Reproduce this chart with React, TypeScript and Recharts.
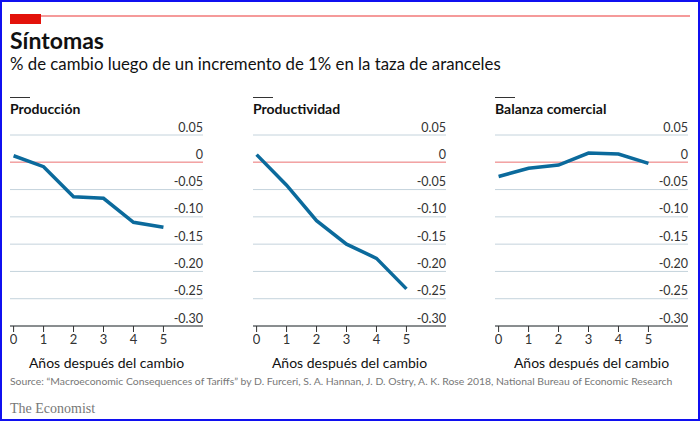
import React from 'react';
import { LineChart, Line, XAxis, YAxis, CartesianGrid, ReferenceLine } from 'recharts';

const years = [0, 1, 2, 3, 4, 5];
const produccion = [0.012, -0.008, -0.063, -0.066, -0.110, -0.119];
const productividad = [0.014, -0.042, -0.107, -0.150, -0.176, -0.232];
const balanza = [-0.026, -0.011, -0.005, 0.017, 0.015, -0.002];
const yTicks = [0.05, 0, -0.05, -0.1, -0.15, -0.2, -0.25, -0.3];

const panels = [
    { title: 'Producción', values: produccion, left: 10 },
    { title: 'Productividad', values: productividad, left: 253 },
    { title: 'Balanza comercial', values: balanza, left: 495 },
];

const FONT = 'Lato, "Open Sans", sans-serif';

const YTick = (props: any) => {
    const { x, y, payload } = props;
    const v = payload.value;
    const label = Math.abs(v) < 1e-9 ? '0' : v.toFixed(2);
    return (
        <text x={x} y={y - 3.5} textAnchor="end" fontSize={12.5} fill="#333" fontFamily={FONT}>
            {label}
        </text>
    );
};

const Panel: React.FC<{ title: string; values: number[]; left: number }> = ({ title, values, left }) => {
    const data = years.map((year, i) => ({ year, value: values[i] }));
    return (
        <>
            <div style={{ position: 'absolute', left, top: 95, width: 20, height: 1, background: '#333' }} />
            <div style={{ position: 'absolute', left, top: 100, fontSize: 14, fontWeight: 700, lineHeight: '14px', color: '#111' }}>
                {title}
            </div>
            <div style={{ position: 'absolute', left, top: 115 }}>
                <LineChart width={194} height={258} data={data} margin={{ top: 18, right: 0, bottom: 7, left: 0 }}>
                    <CartesianGrid horizontal vertical={false} stroke="#c4d3dc" strokeWidth={1} />
                    <XAxis
                        dataKey="year"
                        type="number"
                        domain={[-0.12, 6.32]}
                        ticks={years}
                        interval={0}
                        height={42}
                        tickSize={6}
                        tickMargin={3}
                        stroke="#333"
                        tick={{ fontSize: 13, fill: '#333', fontFamily: FONT }}
                        label={{ value: 'Años después del cambio', position: 'insideBottom', offset: 0, fontSize: 14, fill: '#111', fontFamily: FONT }}
                    />
                    <YAxis
                        orientation="right"
                        width={1}
                        domain={[-0.3, 0.05]}
                        ticks={yTicks}
                        interval={0}
                        axisLine={false}
                        tickLine={false}
                        tickSize={0}
                        tickMargin={0}
                        tick={<YTick />}
                    />
                    <ReferenceLine y={0} stroke="#f4a3a3" strokeWidth={1.5} />
                    <Line
                        type="linear"
                        dataKey="value"
                        stroke="#0b6a9c"
                        strokeWidth={3.5}
                        dot={false}
                        isAnimationActive={false}
                    />
                </LineChart>
            </div>
        </>
    );
};

export default function App() {
    return (
        <div
            style={{
                position: 'absolute',
                left: 0,
                top: 0,
                width: 700,
                height: 421,
                boxSizing: 'border-box',
                border: '2px solid #1010f0',
                background: '#fff',
                fontFamily: FONT,
                overflow: 'hidden',
            }}
        >
            <div style={{ position: 'absolute', left: 8, top: 13, width: 680, height: 1.5, background: '#f59a9a' }} />
            <div style={{ position: 'absolute', left: 8, top: 12, width: 31, height: 10, background: '#e3120b' }} />
            <div style={{ position: 'absolute', left: 8, top: 27, fontSize: 23, fontWeight: 700, lineHeight: '23px', color: '#111' }}>
                Síntomas
            </div>
            <div style={{ position: 'absolute', left: 8, top: 53, fontSize: 16.8, lineHeight: '17px', color: '#111' }}>
                % de cambio luego de un incremento de 1% en la taza de aranceles
            </div>
            {panels.map(p => (
                <Panel key={p.title} title={p.title} values={p.values} left={p.left - 2} />
            ))}
            <div style={{ position: 'absolute', left: 8, top: 374, fontSize: 10.4, lineHeight: '11px', color: '#777', whiteSpace: 'nowrap' }}>
                Source: “Macroeconomic Consequences of Tariffs” by D. Furceri, S. A. Hannan, J. D. Ostry, A. K. Rose 2018, National Bureau of Economic Research
            </div>
            <div style={{ position: 'absolute', left: 8, top: 400, fontSize: 14, lineHeight: '14px', color: '#777', fontFamily: '"Liberation Serif", "DejaVu Serif", serif' }}>
                The Economist
            </div>
        </div>
    );
}
